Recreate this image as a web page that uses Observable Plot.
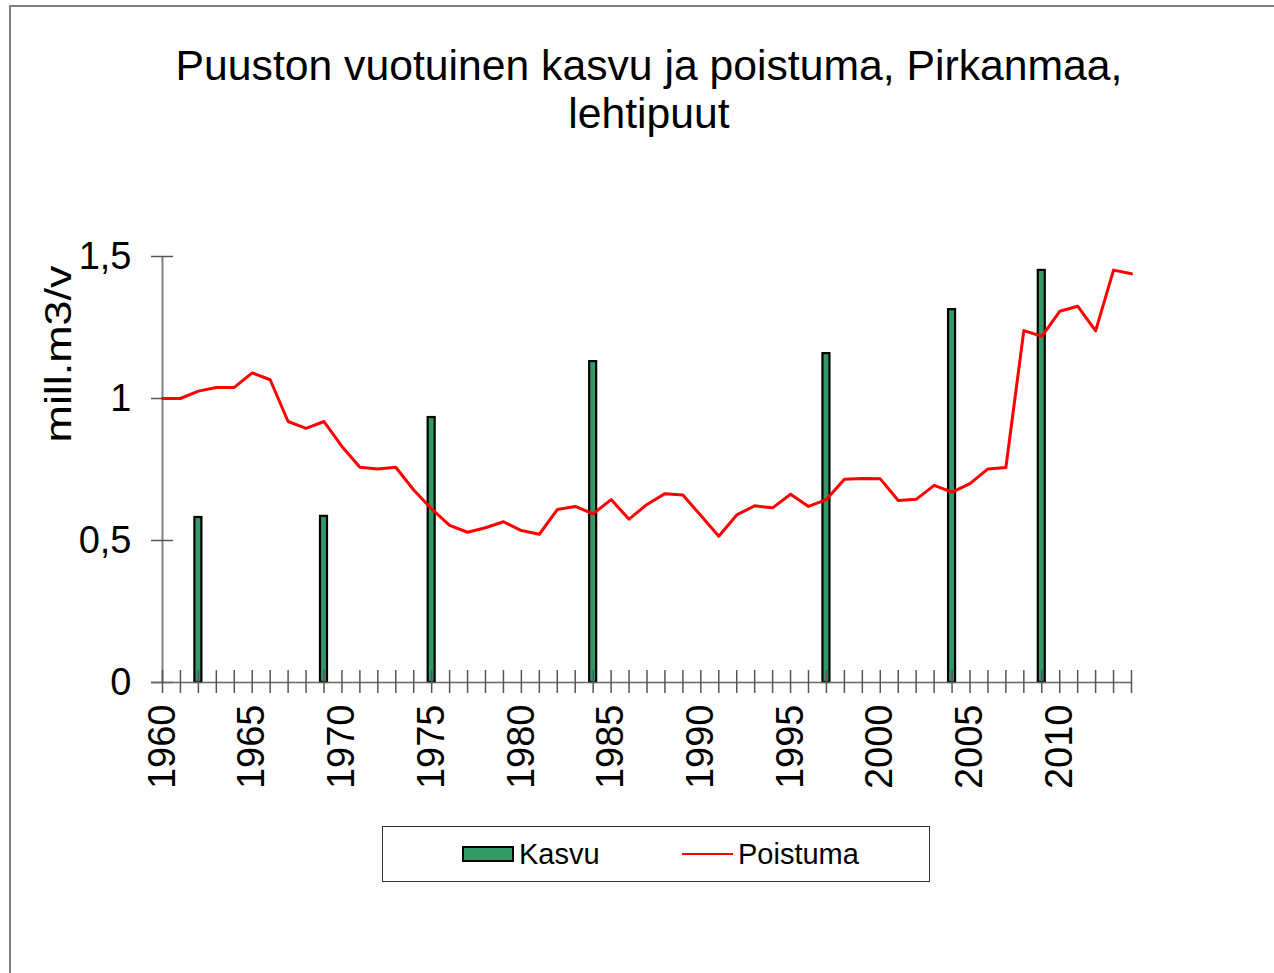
<!DOCTYPE html>
<html>
<head>
<meta charset="utf-8">
<script src="https://cdn.jsdelivr.net/npm/d3@7"></script>
<script src="https://cdn.jsdelivr.net/npm/@observablehq/plot@0.6"></script>
<style>
  html, body { margin: 0; padding: 0; background: #fff; }
  body { width: 1274px; height: 973px; overflow: hidden; position: relative; font-family: "Liberation Sans", Arial, sans-serif; }
  #frame { position: absolute; left: 9px; top: 5px; width: 1300px; height: 1000px; border: 2px solid #808080; box-sizing: border-box; }
  #title { position: absolute; left: 149px; width: 1000px; top: 41px; text-align: center; font-size: 42.7px; line-height: 48px; color: #000; }
  #ylabel { position: absolute; left: 59px; top: 354px; transform: translate(-50%, -50%) rotate(-90deg) scaleX(1.246); font-size: 36px; white-space: nowrap; color: #000; }
  #chart svg { position: absolute; left: 0; top: 0; overflow: visible; }
  #legend { position: absolute; left: 382px; top: 826px; width: 548px; height: 56px; border: 1.5px solid #333; box-sizing: border-box; font-size: 29px; }
  .sw { position: absolute; }
  .lt { position: absolute; top: 10px; line-height: 34px; }
</style>
</head>
<body>
<div id="frame"></div>
<div id="title">Puuston vuotuinen kasvu ja poistuma, Pirkanmaa,<br>lehtipuut</div>
<div id="ylabel">mill.m3/v</div>
<div id="chart"></div>
<div id="legend">
  <div class="sw" style="left:79px; top:19px; width:52px; height:16px; background:#339966; border:2px solid #000; box-sizing:border-box;"></div>
  <div class="lt" style="left:136px;">Kasvu</div>
  <div class="sw" style="left:299px; top:26px; width:51px; height:2px; background:#ff0000;"></div>
  <div class="lt" style="left:355px;">Poistuma</div>
</div>
<script>
// Poistuma (removal), every year
const poistumaYears = [1960,1961,1962,1963,1964,1965,1966,1967,1968,1969,
  1970,1971,1972,1973,1974,1975,1976,1977,1978,1979,
  1980,1981,1982,1983,1984,1985,1986,1987,1988,1989,
  1990,1991,1992,1993,1994,1995,1996,1997,1998,1999,
  2000,2001,2002,2003,2004,2005,2006,2007,2008,2009,
  2010,2011,2012,2013,2014];
const poistumaValues = [1.00,1.00,1.026,1.039,1.039,1.09,1.066,0.919,0.895,0.919,
  0.831,0.758,0.752,0.758,0.678,0.611,0.553,0.529,0.545,0.566,
  0.535,0.522,0.609,0.620,0.594,0.644,0.575,0.627,0.665,0.660,
  0.588,0.515,0.590,0.622,0.615,0.663,0.620,0.644,0.716,0.718,
  0.717,0.641,0.645,0.694,0.670,0.700,0.752,0.757,1.239,1.219,
  1.307,1.325,1.238,1.452,1.439];
// Kasvu (growth), inventory years only
const kasvuYears = [1962,1969,1975,1984,1997,2004,2009];
const kasvuValues = [0.581,0.585,0.933,1.130,1.158,1.313,1.451];
// Axis ticks
const xTickLabels = [1960,1965,1970,1975,1980,1985,1990,1995,2000,2005,2010];
const yTicks = [0,0.5,1,1.5];

const poistuma = poistumaYears.map((y,i) => ({year: y, value: poistumaValues[i]}));
const kasvu = kasvuYears.map((y,i) => ({year: y, value: kasvuValues[i]}));

const chart = Plot.plot({
  width: 1274,
  height: 820,
  marginLeft: 162,
  marginRight: 143,
  marginTop: 256,
  marginBottom: 138,
  style: {fontFamily: "'Liberation Sans', Arial, sans-serif", fontSize: "38px", color: "#000", background: "transparent", overflow: "visible"},
  x: {domain: [1960, 2014], ticks: xTickLabels, tickFormat: d => String(d), tickSize: 0, tickPadding: 22, tickRotate: -90, label: null},
  y: {domain: [0, 1.5], ticks: yTicks, tickFormat: d => String(d).replace(".", ","), tickSize: 0, tickPadding: 31, label: null},
  marks: [
    // y axis line
    Plot.ruleX([1960], {y1: 0, y2: 1.5, stroke: "#808080", strokeWidth: 2}),
    // y tick marks crossing the axis
    Plot.ruleY(yTicks, {y: d => d, x1: 1960, x2: 1960, insetLeft: 11, insetRight: 11, stroke: "#555", strokeWidth: 1.5}),
    // bars
    Plot.rect(kasvu, {x1: "year", x2: "year", y1: 0, y2: "value", insetLeft: -3.5, insetRight: -3.5, fill: "#339966", stroke: "#000", strokeWidth: 2.2}),
    // x axis line
    Plot.ruleY([0], {x1: 1960, x2: 2014, insetLeft: -11, stroke: "#666", strokeWidth: 1.5}),
    // x tick marks (every year), crossing the axis
    Plot.ruleX(poistumaYears, {x: d => d, y1: 0, y2: 0, insetTop: 11, insetBottom: 12, stroke: "#555", strokeWidth: 1.5}),
    // line
    Plot.line(poistuma, {x: "year", y: "value", stroke: "#ff0000", strokeWidth: 3})
  ]
});
document.getElementById("chart").appendChild(chart);
</script>
</body>
</html>
